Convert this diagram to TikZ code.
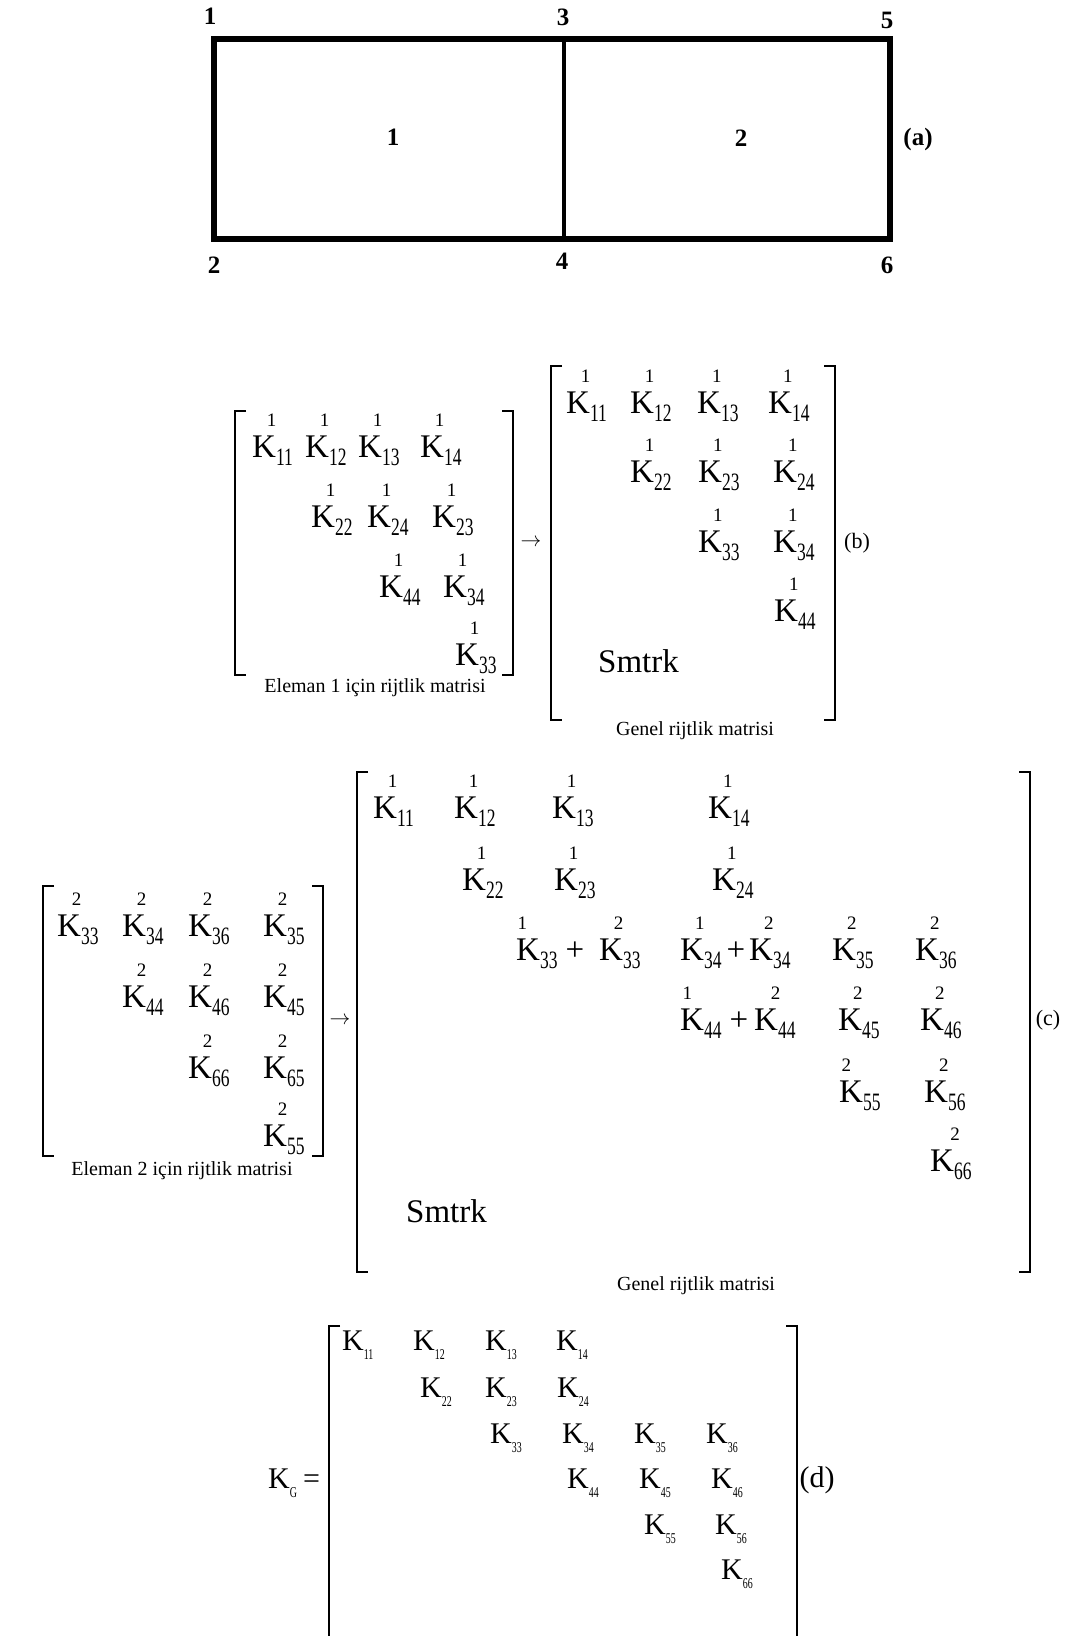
\documentclass[tikz,border=0pt]{standalone}
\usepackage{fontspec}
\setmainfont{Liberation Serif}
\usepackage{graphicx}
\usetikzlibrary{positioning}

% stiffness entry: K with element number on top and condensed indices below
\newlength{\Kwd}
\newcommand{\supf}{\fontsize{19}{19}\selectfont}
\newcommand{\subf}{\fontsize{25}{25}\selectfont}
\newcommand{\Ke}[3][0.82]{%
  \settowidth{\Kwd}{K}%
  \makebox[0pt][l]{\hspace{#1\Kwd}\makebox[0pt]{\raisebox{31pt}{\supf #2}}}%
  K\raisebox{-8pt}{\scalebox{0.7}[1]{\subf #3}}}
\newcommand{\Kd}[1]{K\raisebox{-9pt}{\scalebox{0.66}[1]{\fontsize{15}{15}\selectfont #1}}}

\begin{document}
\begin{tikzpicture}[
  x=1pt, y=-1pt,
  entry/.style={anchor=base west, inner sep=0pt, font=\fontsize{33}{33}\selectfont},
  entryd/.style={anchor=base west, inner sep=0pt, font=\fontsize{30}{30}\selectfont},
  plussign/.style={anchor=base, inner sep=0pt, font=\fontsize{33}{33}\selectfont},
  bracket/.style={line width=1.5pt, line join=miter},
  meshline/.style={line width=6pt, line join=miter},
  nodenum/.style={inner sep=0pt, font=\bfseries\fontsize{25}{25}\selectfont},
  matcap/.style={anchor=base, inner sep=0pt, font=\fontsize{20}{20}\selectfont},
  parttag/.style={inner sep=0pt, font=\fontsize{22}{22}\selectfont},
  smtrk/.style={anchor=base west, inner sep=0pt, font=\fontsize{33}{33}\selectfont},
  arrowsym/.style={inner sep=0pt, font=\fontsize{20}{20}\selectfont}
]
\useasboundingbox (0,0) rectangle (1068,1636);

% (a) two elements
\draw[meshline] (214,39) rectangle (890,239);
\draw[line width=4.5pt] (564,39) -- (564,239);
\node[nodenum] (n1) at (210,16) {1};
\node[nodenum] (n3) at (563,17) {3};
\node[nodenum] (n5) at (887,20) {5};
\node[nodenum] (n2) at (214,265) {2};
\node[nodenum] (n4) at (562,261) {4};
\node[nodenum] (n6) at (887,265) {6};
\node[nodenum] (el1) at (393,137) {1};
\node[nodenum] (el2) at (741,138) {2};
\node[nodenum] (tagA) at (918,139) {(a)};

% (b) element 1 matrix
\draw[bracket] (246,411) -- (235,411) -- (235,675) -- (246,675);
\draw[bracket] (502,411) -- (513,411) -- (513,675) -- (502,675);
\node[entry] (e1k11) at (252,457) {\Ke{1}{11}};
\node[entry] (e1k12) at (305,457) {\Ke{1}{12}};
\node[entry] (e1k13) at (358,457) {\Ke{1}{13}};
\node[entry] (e1k14) at (420,457) {\Ke{1}{14}};
\node[entry] (e1k22) at (311,527) {\Ke{1}{22}};
\node[entry] (e1k24) at (367,527) {\Ke{1}{24}};
\node[entry] (e1k23) at (432,527) {\Ke{1}{23}};
\node[entry] (e1k44) at (379,597) {\Ke{1}{44}};
\node[entry] (e1k34) at (443,597) {\Ke{1}{34}};
\node[entry] (e1k33) at (455,665) {\Ke{1}{33}};
\node[matcap] (capE1) at (375,692) {Eleman 1 için rijtlik matrisi};
\node[arrowsym] (arrB) at (531,543) {$\rightarrow$};

% (b) global matrix after element 1
\draw[bracket] (562,366) -- (551,366) -- (551,720) -- (562,720);
\draw[bracket] (824,366) -- (835,366) -- (835,720) -- (824,720);
\node[entry] (g1k11) at (566,413) {\Ke{1}{11}};
\node[entry] (g1k12) at (630,413) {\Ke{1}{12}};
\node[entry] (g1k13) at (697,413) {\Ke{1}{13}};
\node[entry] (g1k14) at (768,413) {\Ke{1}{14}};
\node[entry] (g1k22) at (630,482) {\Ke{1}{22}};
\node[entry] (g1k23) at (698,482) {\Ke{1}{23}};
\node[entry] (g1k24) at (773,482) {\Ke{1}{24}};
\node[entry] (g1k33) at (698,552) {\Ke{1}{33}};
\node[entry] (g1k34) at (773,552) {\Ke{1}{34}};
\node[entry] (g1k44) at (774,621) {\Ke{1}{44}};
\node[smtrk] (smB) at (598,672) {Smtrk};
\node[parttag] (tagB) at (857,543) {(b)};
\node[matcap] (capG1) at (695,735) {Genel rijtlik matrisi};

% (c) element 2 matrix
\draw[bracket] (54,886) -- (43,886) -- (43,1156) -- (54,1156);
\draw[bracket] (312,886) -- (323,886) -- (323,1156) -- (312,1156);
\node[entry] (e2k33) at (57,936) {\Ke{2}{33}};
\node[entry] (e2k34) at (122,936) {\Ke{2}{34}};
\node[entry] (e2k36) at (188,936) {\Ke{2}{36}};
\node[entry] (e2k35) at (263,936) {\Ke{2}{35}};
\node[entry] (e2k44) at (122,1007) {\Ke{2}{44}};
\node[entry] (e2k46) at (188,1007) {\Ke{2}{46}};
\node[entry] (e2k45) at (263,1007) {\Ke{2}{45}};
\node[entry] (e2k66) at (188,1078) {\Ke{2}{66}};
\node[entry] (e2k65) at (263,1078) {\Ke{2}{65}};
\node[entry] (e2k55) at (263,1146) {\Ke{2}{55}};
\node[matcap] (capE2) at (182,1175) {Eleman 2 için rijtlik matrisi};
\node[arrowsym] (arrC) at (340,1021) {$\rightarrow$};

% (c) global matrix after element 2
\draw[bracket] (368,772) -- (357,772) -- (357,1272) -- (368,1272);
\draw[bracket] (1019,772) -- (1030,772) -- (1030,1272) -- (1019,1272);
\node[entry] (g2k11) at (373,818) {\Ke{1}{11}};
\node[entry] (g2k12) at (454,818) {\Ke{1}{12}};
\node[entry] (g2k13) at (552,818) {\Ke{1}{13}};
\node[entry] (g2k14) at (708,818) {\Ke{1}{14}};
\node[entry] (g2k22) at (462,890) {\Ke{1}{22}};
\node[entry] (g2k23) at (554,890) {\Ke{1}{23}};
\node[entry] (g2k24) at (712,890) {\Ke{1}{24}};
\node[entry] (g2k33a) at (516,960) {\Ke[.26]{1}{33}};
\node[plussign] (p33) at (575,960) {+};
\node[entry] (g2k33b) at (599,960) {\Ke{2}{33}};
\node[entry] (g2k34a) at (680,960) {\Ke{1}{34}};
\node[plussign] (p34) at (736,960) {+};
\node[entry] (g2k34b) at (749,960) {\Ke{2}{34}};
\node[entry] (g2k35) at (832,960) {\Ke{2}{35}};
\node[entry] (g2k36) at (915,960) {\Ke{2}{36}};
\node[entry] (g2k44a) at (680,1030) {\Ke[.3]{1}{44}};
\node[plussign] (p44) at (739,1030) {+};
\node[entry] (g2k44b) at (754,1030) {\Ke[.9]{2}{44}};
\node[entry] (g2k45) at (838,1030) {\Ke{2}{45}};
\node[entry] (g2k46) at (920,1030) {\Ke{2}{46}};
\node[entry] (g2k55) at (839,1102) {\Ke[.3]{2}{55}};
\node[entry] (g2k56) at (924,1102) {\Ke{2}{56}};
\node[entry] (g2k66) at (930,1171) {\Ke[1.05]{2}{66}};
\node[smtrk] (smC) at (406,1222) {Smtrk};
\node[parttag] (tagC) at (1048,1020) {(c)};
\node[matcap] (capG2) at (696,1290) {Genel rijtlik matrisi};

% (d) assembled global stiffness matrix
\node[entryd] (kG) at (268,1488) {\Kd{G}\hspace{6pt}=};
\draw[bracket] (340,1326) -- (329,1326) -- (329,1636);
\draw[bracket] (786,1326) -- (797,1326) -- (797,1636);
\node[entryd] (kg11) at (342,1350) {\Kd{11}};
\node[entryd] (kg12) at (413,1350) {\Kd{12}};
\node[entryd] (kg13) at (485,1350) {\Kd{13}};
\node[entryd] (kg14) at (556,1350) {\Kd{14}};
\node[entryd] (kg22) at (420,1397) {\Kd{22}};
\node[entryd] (kg23) at (485,1397) {\Kd{23}};
\node[entryd] (kg24) at (557,1397) {\Kd{24}};
\node[entryd] (kg33) at (490,1443) {\Kd{33}};
\node[entryd] (kg34) at (562,1443) {\Kd{34}};
\node[entryd] (kg35) at (634,1443) {\Kd{35}};
\node[entryd] (kg36) at (706,1443) {\Kd{36}};
\node[entryd] (kg44) at (567,1488) {\Kd{44}};
\node[entryd] (kg45) at (639,1488) {\Kd{45}};
\node[entryd] (kg46) at (711,1488) {\Kd{46}};
\node[entryd] (kg55) at (644,1534) {\Kd{55}};
\node[entryd] (kg56) at (715,1534) {\Kd{56}};
\node[entryd] (kg66) at (721,1579) {\Kd{66}};
\node[inner sep=0pt, font=\fontsize{30}{30}\selectfont] (tagD) at (817,1480) {(d)};
\end{tikzpicture}
\end{document}
